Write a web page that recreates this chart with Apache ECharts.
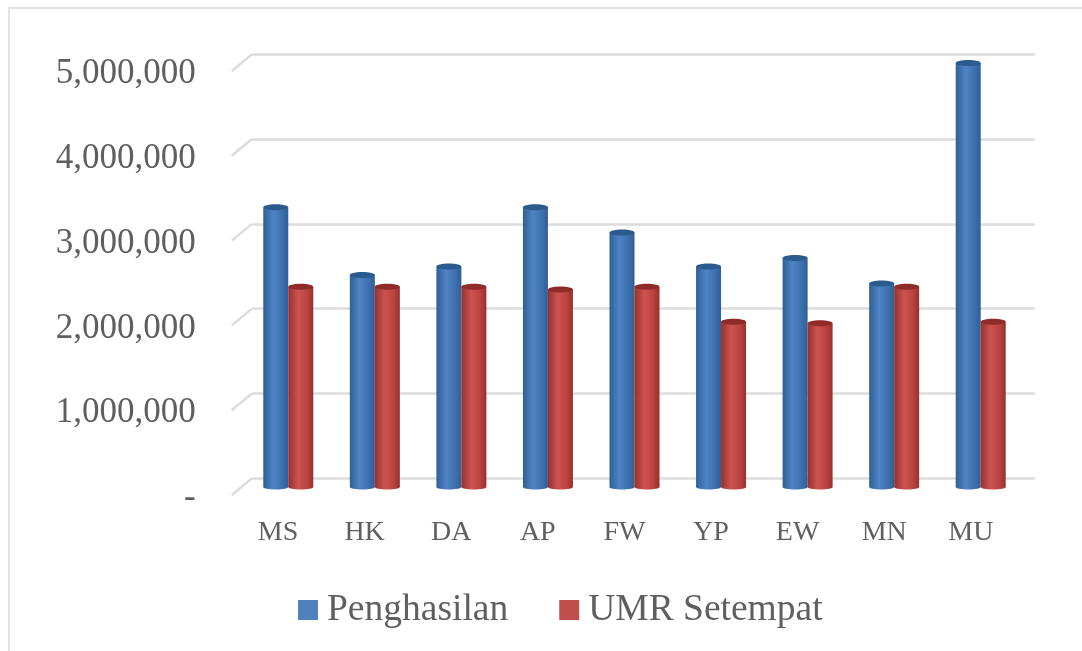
<!DOCTYPE html>
<html>
<head>
<meta charset="utf-8">
<title>Penghasilan</title>
<script src="https://cdn.jsdelivr.net/npm/echarts@6/dist/echarts.min.js"></script>
<style>
	html, body { margin: 0; padding: 0; background: #fff; }
	#main { width: 1082px; height: 651px; }
</style>
</head>
<body>
<div id="main"></div>
<script>
var categories = ['MS', 'HK', 'DA', 'AP', 'FW', 'YP', 'EW', 'MN', 'MU'];
var penghasilan = [3300000, 2500000, 2600000, 3300000, 3000000, 2600000, 2700000, 2400000, 5000000];
var umrSetempat = [2360000, 2360000, 2360000, 2330000, 2360000, 1950000, 1930000, 2360000, 1950000];
var yTicks = [0, 1000000, 2000000, 3000000, 4000000, 5000000];

var fontName = '"Liberation Serif", serif';
var textColor = '#5f5f5f';
var gridColor = '#dcdcdc';

var myChart = echarts.init(document.getElementById('main'), null, {renderer: 'canvas'});

// ketiga grid ini meniru bidang depan, tengah dan belakang dari chart 3D
var makeYAxis = function(gridIndex, extra) {
	var axis = {
		type: 'value',
		gridIndex: gridIndex,
		min: 0,
		max: 5000000,
		interval: 1000000,
		axisLine: {show: false},
		axisTick: {show: false},
		axisLabel: {show: false},
		splitLine: {show: false}
	};
	return Object.assign(axis, extra);
};

var makeXAxis = function(gridIndex, extra) {
	var axis = {
		type: 'category',
		gridIndex: gridIndex,
		data: categories,
		axisLine: {show: false},
		axisTick: {show: false},
		axisLabel: {show: false},
		splitLine: {show: false}
	};
	return Object.assign(axis, extra);
};

var renderCylinder = function(offset, edge, light, mid, cap) {
	return function(params, api) {
		var top = api.coord([api.value(0), api.value(1)]);
		var base = api.coord([api.value(0), 0]);
		var w = 25;
		var x = top[0] + offset - w / 2;
		var fill = new echarts.graphic.LinearGradient(0, 0, 1, 0, [
			{offset: 0, color: edge},
			{offset: 0.4, color: light},
			{offset: 0.75, color: mid},
			{offset: 1, color: edge}
		]);
		return {
			type: 'group',
			children: [
				{type: 'ellipse', shape: {cx: x + w / 2, cy: base[1], rx: w / 2, ry: 2.5}, style: {fill: fill}},
				{type: 'rect', shape: {x: x, y: top[1], width: w, height: base[1] - top[1]}, style: {fill: fill}},
				{type: 'ellipse', shape: {cx: x + w / 2, cy: top[1], rx: w / 2, ry: 3}, style: {fill: cap}}
			]
		};
	};
};

var toPairs = function(values) {
	return values.map(function(v, i) {
		return [i, v];
	});
};

var option = {
	animation: false,
	color: ['#4f81bd', '#c0504d'],
	graphic: [{
		type: 'rect',
		silent: true,
		shape: {x: 9, y: 8, width: 1090, height: 660},
		style: {fill: 'none', stroke: '#e2e2e2', lineWidth: 2}
	}],
	legend: {
		left: 298,
		top: 591,
		padding: 0,
		itemWidth: 20,
		itemHeight: 20,
		itemGap: 51,
		icon: 'rect',
		data: ['Penghasilan', 'UMR Setempat'],
		textStyle: {fontFamily: fontName, fontSize: 37.5, color: textColor, padding: [0, 0, 0, 4]}
	},
	grid: [
		{left: 252, top: 54.5, width: 783, height: 423.5},
		{left: 245, top: 63, width: 779, height: 424},
		{left: 234.7, top: 71, width: 779.4, height: 424}
	],
	xAxis: [
		makeXAxis(0),
		makeXAxis(1),
		makeXAxis(2, {axisLabel: {show: true, margin: 24, fontFamily: fontName, fontSize: 28, color: textColor}})
	],
	yAxis: [
		makeYAxis(0, {splitLine: {show: true, lineStyle: {color: gridColor, width: 2.5}}}),
		makeYAxis(1),
		makeYAxis(2, {
			axisLabel: {
				show: true,
				margin: 39,
				formatter: function(v) {
					return '{v|' + (v === 0 ? '-' : v.toLocaleString('en-US')) + '}';
				},
				rich: {
					v: {fontFamily: fontName, fontSize: 35, color: textColor, padding: [6, 0, 0, 0]}
				}
			}
		})
	],
	series: [
		{
			// garis miring dari sumbu depan ke dinding belakang
			type: 'custom',
			xAxisIndex: 2,
			yAxisIndex: 2,
			silent: true,
			data: yTicks.map(function(v) {
				return [0, v];
			}),
			encode: {x: 0, y: 1},
			renderItem: function(params, api) {
				var p = api.coord([0, api.value(1)]);
				var x0 = params.coordSys.x - 3;
				return {
					type: 'line',
					shape: {x1: x0, y1: p[1], x2: x0 + 20, y2: p[1] - 16.5},
					style: {stroke: gridColor, lineWidth: 2.5}
				};
			}
		},
		{
			name: 'Penghasilan',
			type: 'custom',
			xAxisIndex: 1,
			yAxisIndex: 1,
			data: toPairs(penghasilan),
			encode: {x: 0, y: 1},
			itemStyle: {color: '#4f81bd'},
			renderItem: renderCylinder(-12.5, '#2f5f96', '#4f84c4', '#3d70ad', '#2b5a8e')
		},
		{
			name: 'UMR Setempat',
			type: 'custom',
			xAxisIndex: 1,
			yAxisIndex: 1,
			data: toPairs(umrSetempat),
			encode: {x: 0, y: 1},
			itemStyle: {color: '#c0504d'},
			renderItem: renderCylinder(12.5, '#97302e', '#cc5450', '#ba4340', '#8f2c2a')
		}
	]
};

myChart.setOption(option);
</script>
</body>
</html>
